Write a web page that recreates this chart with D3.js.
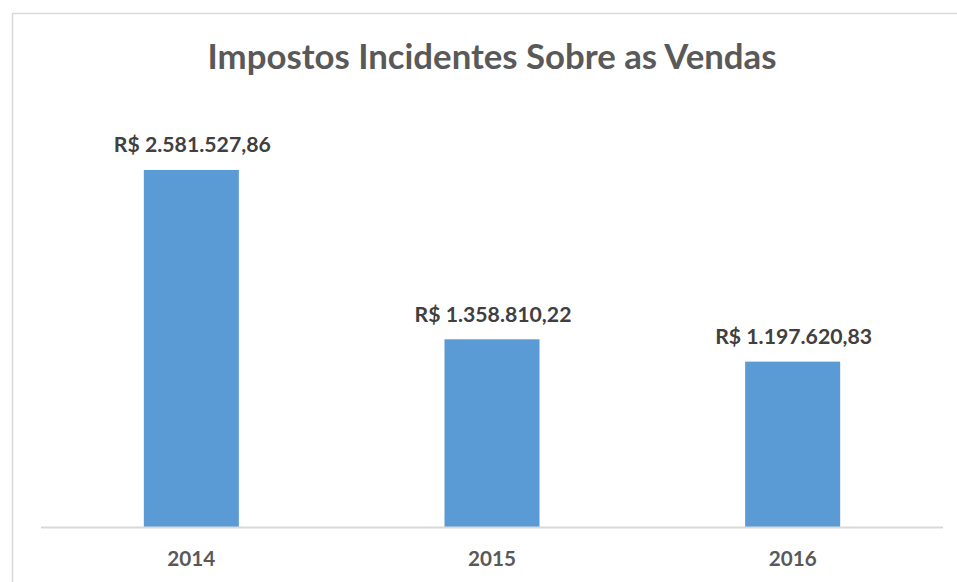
<!DOCTYPE html>
<html>
<head>
<meta charset="utf-8">
<script src="https://cdn.jsdelivr.net/npm/d3@7"></script>
<style>
  html, body { margin: 0; padding: 0; background: #fff; }
  svg { display: block; }
  text { font-family: Lato, "Open Sans", sans-serif; font-weight: bold; }
</style>
</head>
<body>
<svg id="chart" width="957" height="582"></svg>
<script>
// Sales-tax totals per year
const years = ["2014", "2015", "2016"];
const impostos = [2581527.86, 1358810.22, 1197620.83];
const titulo = "Impostos Incidentes Sobre as Vendas";

const W = 957, H = 582;
const svg = d3.select("#chart");

// Brazilian currency formatting: R$ 1.234.567,89
const ptBR = d3.formatLocale({ decimal: ",", thousands: ".", grouping: [3], currency: ["R$ ", ""] });
const fmt = ptBR.format("$,.2f");

// Chart frame
svg.append("rect")
  .attr("x", 12.5).attr("y", 13.5)
  .attr("width", W).attr("height", H)
  .attr("fill", "#fff").attr("stroke", "#d9d9d9").attr("stroke-width", 1.5);

const plot = { left: 41, right: 943, top: 112, bottom: 527.5 };

const x = d3.scaleBand()
  .domain(years)
  .range([plot.left, plot.right])
  .paddingInner(0.684)
  .paddingOuter(0.342);

const y = d3.scaleLinear()
  .domain([0, 3000000])
  .range([plot.bottom, plot.top]);

// Fit a text element's font size to a target width
function fitWidth(sel, target) {
  sel.attr("font-size", 100);
  const w = sel.node().getComputedTextLength();
  sel.attr("font-size", 100 * target / w);
}

// Bars
svg.append("g").selectAll("rect")
  .data(impostos)
  .join("rect")
  .attr("x", (d, i) => x(years[i]))
  .attr("y", d => y(d))
  .attr("width", x.bandwidth())
  .attr("height", d => y(0) - y(d))
  .attr("fill", "#5b9bd5");

// Category axis
const xAxis = svg.append("g")
  .attr("transform", `translate(0,${plot.bottom})`)
  .call(d3.axisBottom(x).tickSize(0).tickPadding(0));
xAxis.select(".domain").attr("stroke", "#d9d9d9").attr("stroke-width", 2)
  .attr("d", `M${plot.left},0H${plot.right}`);
xAxis.selectAll(".tick text")
  .attr("fill", "#595959")
  .attr("dy", 0)
  .attr("y", 38.5)
  .style("font-family", "Lato, 'Open Sans', sans-serif")
  .style("font-weight", "bold")
  .each(function () { fitWidth(d3.select(this), 48); });

// Value labels
svg.append("g").selectAll("text")
  .data(impostos)
  .join("text")
  .attr("x", (d, i) => x(years[i]) + x.bandwidth() / 2 + 1)
  .attr("y", d => y(d) - 17.5)
  .attr("text-anchor", "middle")
  .attr("fill", "#404040")
  .text(d => fmt(d))
  .each(function () { fitWidth(d3.select(this), 157); });

// Title
const t = svg.append("text")
  .attr("x", 492)
  .attr("y", 69)
  .attr("text-anchor", "middle")
  .attr("fill", "#595959")
  .text(titulo);
fitWidth(t, 569);
</script>
</body>
</html>
